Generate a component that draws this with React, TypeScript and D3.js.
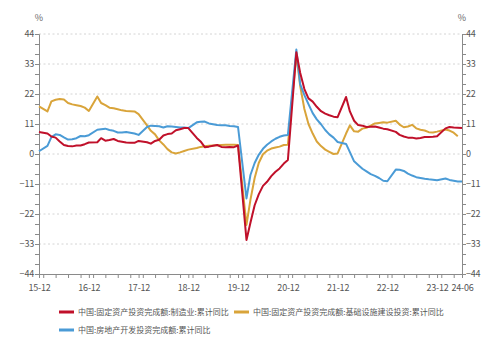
import React, { useEffect, useRef } from "react";
import * as d3 from "d3";

// monthly cumulative YoY (%), Jan is not published so the series run Dec, Feb..Dec
const startMonth = "2015-12";
const endMonth = "2024-06";

const mfgValues = [
  8.1,
  7.5, 6.4, 6.0, 4.6, 3.3, 2.9, 2.8, 3.1, 3.1, 3.6, 4.2,
  4.3, 5.8, 4.9, 5.1, 5.5, 4.8, 4.5, 4.2, 4.1, 4.1, 4.8,
  4.3, 3.8, 4.8, 5.2, 6.8, 7.3, 7.5, 8.7, 9.1, 9.5, 9.5,
  5.9, 4.6, 2.5, 2.7, 3.0, 3.3, 2.6, 2.5, 2.6, 2.5, 3.1,
  -31.5, -25.2, -18.8, -14.8, -11.7, -10.2, -8.1, -6.5, -5.3, -3.5, -2.2,
  37.3, 29.8, 23.8, 20.4, 19.2, 17.3, 15.7, 14.8, 14.2, 13.7, 13.5,
  20.9, 15.6, 12.2, 10.6, 10.4, 9.9, 10.0, 10.1, 9.7, 9.3, 9.1,
  8.1, 7.0, 6.4, 6.0, 6.0, 5.7, 5.9, 6.2, 6.2, 6.3, 6.5,
  9.4, 9.9, 9.7, 9.6, 9.5,
];

const infraValues = [
  17.5,
  15.6, 19.3, 19.9, 20.2, 20.0, 18.7, 18.2, 17.9, 17.6, 17.0, 15.8,
  21.1, 18.7, 17.9, 17.0, 16.8, 16.4, 16.0, 15.8, 15.7, 15.6, 14.6,
  10.5, 8.5, 7.2, 5.0, 3.5, 1.8, 0.6, 0.2, 0.6, 1.1, 1.6,
  2.2, 2.6, 2.8, 3.0, 3.1, 3.2, 3.3, 3.4, 3.4, 3.4, 3.3,
  -26.0, -16.8, -8.8, -3.3, -0.1, 1.2, 2.0, 2.4, 2.7, 3.3, 3.4,
  36.6, 25.0, 16.5, 11.0, 7.5, 4.6, 2.9, 1.6, 0.8, 0.0, 0.2,
  7.5, 10.5, 8.3, 8.2, 9.3, 9.6, 10.4, 11.2, 11.4, 11.6, 11.5,
  12.2, 10.8, 9.8, 10.1, 10.7, 9.4, 8.9, 8.6, 8.0, 7.9, 8.2,
  9.0, 8.6, 7.8, 6.5,
];

const estateValues = [
  1.0,
  3.0, 6.2, 7.2, 7.0, 6.1, 5.3, 5.4, 5.8, 6.6, 6.5, 6.9,
  8.9, 9.1, 9.3, 8.8, 8.5, 7.9, 7.9, 8.1, 7.8, 7.5, 7.0,
  9.9, 10.4, 10.3, 10.2, 9.7, 10.2, 10.1, 9.9, 9.7, 9.7, 9.5,
  11.6, 11.8, 11.9, 11.2, 10.9, 10.6, 10.5, 10.5, 10.3, 10.2, 9.9,
  -16.3, -7.7, -3.3, -0.3, 1.9, 3.4, 4.6, 5.6, 6.3, 6.8, 7.0,
  38.3, 25.6, 21.6, 18.3, 15.0, 12.7, 10.9, 8.8, 7.2, 6.0, 4.4,
  3.7, 0.7, -2.7, -4.0, -5.4, -6.4, -7.4, -8.0, -8.8, -9.8, -10.0,
  -5.7, -5.8, -6.2, -7.2, -7.9, -8.5, -8.8, -9.1, -9.3, -9.4, -9.6,
  -9.0, -9.5, -9.8, -10.1, -10.1,
];

const seriesNames = [
  "中国:固定资产投资完成额:制造业:累计同比",
  "中国:固定资产投资完成额:基础设施建设投资:累计同比",
  "中国:房地产开发投资完成额:累计同比",
];
const seriesColors = ["#c0102a", "#d9a43a", "#4a9bd6"];

const yTickValues = [-44, -33, -22, -11, 0, 11, 22, 33, 44];
const xLabelMonths = [
  "2015-12", "2016-12", "2017-12", "2018-12", "2019-12",
  "2020-12", "2021-12", "2022-12", "2023-12", "2024-06",
];

const FONT = "'Noto Sans CJK SC', 'Noto Sans', sans-serif";

const App = () => {
  const svgRef = useRef<SVGSVGElement>(null);

  useEffect(() => {
    const svg = d3.select(svgRef.current);
    svg.selectAll("*").remove();

    const parse = d3.timeParse("%Y-%m");
    const margin = { top: 34, right: 42, bottom: 78, left: 39 };
    const width = 504;
    const height = 352;

    // months without January
    const months = d3
      .timeMonth.range(parse(startMonth)!, d3.timeMonth.offset(parse(endMonth)!, 1))
      .filter((d) => d.getMonth() !== 0);

    const x = d3
      .scaleTime()
      .domain([parse(startMonth)!, parse(endMonth)!])
      .range([margin.left, width - margin.right]);
    const y = d3
      .scaleLinear()
      .domain([-44, 44])
      .range([height - margin.bottom, margin.top]);

    const x0 = margin.left;
    const x1 = width - margin.right;
    const yBottom = height - margin.bottom;

    // grid
    svg
      .append("g")
      .selectAll("line")
      .data(yTickValues.filter((d) => d !== -44))
      .enter()
      .append("line")
      .attr("x1", x0)
      .attr("x2", x1)
      .attr("y1", (d) => y(d))
      .attr("y2", (d) => y(d))
      .attr("stroke", "#d4d4d4")
      .attr("stroke-width", 1)
      .attr("stroke-dasharray", "2,2.5");

    const axisColor = "#8a8a8a";
    const minorY = d3.range(-44, 44.001, 11 / 3);
    const styleLabels = (sel: any) =>
      sel
        .attr("fill", "#555")
        .style("font-family", FONT)
        .style("font-size", "9px")
        .style("letter-spacing", "-0.2px");

    // left axis
    const left = svg.append("g").attr("transform", `translate(${x0},0)`);
    left
      .call(d3.axisLeft(y).tickValues(minorY).tickSize(4).tickFormat(() => ""))
      .call((g) => g.selectAll("line,path").attr("stroke", axisColor));
    left
      .append("g")
      .call(d3.axisLeft(y).tickValues(yTickValues).tickSize(4))
      .call((g) => g.select(".domain").remove())
      .call((g) => g.selectAll("line").attr("stroke", axisColor))
      .call((g) => styleLabels(g.selectAll("text")).attr("x", -5));

    // right axis
    const right = svg.append("g").attr("transform", `translate(${x1},0)`);
    right
      .call(d3.axisRight(y).tickValues(minorY).tickSize(4).tickFormat(() => ""))
      .call((g) => g.selectAll("line,path").attr("stroke", axisColor));
    right
      .append("g")
      .call(d3.axisRight(y).tickValues(yTickValues).tickSize(4))
      .call((g) => g.select(".domain").remove())
      .call((g) => g.selectAll("line").attr("stroke", axisColor))
      .call((g) => styleLabels(g.selectAll("text")).attr("x", 4));

    // bottom axis
    const bottom = svg.append("g").attr("transform", `translate(0,${yBottom})`);
    bottom
      .call(
        d3
          .axisBottom(x)
          .tickValues(d3.timeMonth.every(3)!.range(parse(startMonth)!, d3.timeMonth.offset(parse(endMonth)!, 1)))
          .tickSize(4)
          .tickFormat(() => "")
      )
      .call((g) => g.selectAll("line,path").attr("stroke", axisColor));
    bottom
      .append("g")
      .call(
        d3
          .axisBottom(x)
          .tickValues(xLabelMonths.map((m) => parse(m)!))
          .tickSize(4)
          .tickFormat((d) => d3.timeFormat("%y-%m")(d as Date))
      )
      .call((g) => g.select(".domain").remove())
      .call((g) => g.selectAll("line").attr("stroke", axisColor))
      .call((g) => styleLabels(g.selectAll("text")).attr("y", 11));

    // unit labels
    [x0, x1].forEach((px) => {
      svg
        .append("text")
        .attr("x", px)
        .attr("y", 21)
        .attr("text-anchor", "middle")
        .attr("fill", "#666")
        .style("font-family", FONT)
        .style("font-size", "9px")
        .text("%");
    });

    // lines
    const allValues = [mfgValues, infraValues, estateValues];
    const line = d3
      .line<number>()
      .x((_, i) => x(months[i]))
      .y((d) => y(d));

    // draw order: infra, estate, mfg on top
    [1, 2, 0].forEach((k) => {
      svg
        .append("path")
        .datum(allValues[k])
        .attr("fill", "none")
        .attr("stroke", seriesColors[k])
        .attr("stroke-width", 2)
        .attr("stroke-linejoin", "round")
        .attr("d", line);
    });

    // legend
    const legendPos = [
      { x: 59, y: 312 },
      { x: 234, y: 312 },
      { x: 59, y: 330 },
    ];
    seriesNames.forEach((name, k) => {
      const g = svg
        .append("g")
        .attr("transform", `translate(${legendPos[k].x},${legendPos[k].y})`);
      g.append("line")
        .attr("x1", 0)
        .attr("x2", 15)
        .attr("stroke", seriesColors[k])
        .attr("stroke-width", 3);
      g.append("text")
        .attr("x", 19)
        .attr("dy", "0.35em")
        .attr("fill", "#555")
        .style("font-family", FONT)
        .style("font-size", "8px")
        .text(name);
    });
  }, []);

  return (
    <svg
      ref={svgRef}
      width={504}
      height={352}
      style={{ position: "absolute", left: 0, top: 0, background: "#fff" }}
    />
  );
};

export default App;
